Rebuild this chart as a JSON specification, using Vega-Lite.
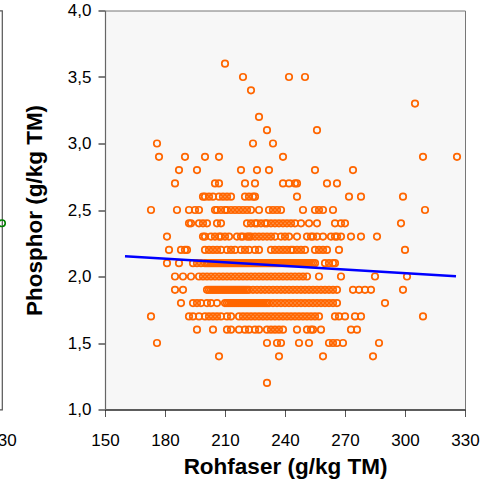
{
"$schema": "https://vega.github.io/schema/vega-lite/v6.json",
"padding": {"left": -99, "top": 0.5, "right": 0, "bottom": 0},
"background": "white",
"spacing": 5,
"config": {"font": "Liberation Sans"},
"datasets": {
"links": [{"Wert": 330, "Phosphor": 2.4}],
"linie": [{"Rohfaser": 160, "Phosphor": 2.153}, {"Rohfaser": 325.5, "Phosphor": 2.002}],
"punkte": [
{"Rohfaser":210,"Phosphor":3.6},
{"Rohfaser":219,"Phosphor":3.5},{"Rohfaser":242,"Phosphor":3.5},{"Rohfaser":250,"Phosphor":3.5},
{"Rohfaser":223,"Phosphor":3.4},
{"Rohfaser":305,"Phosphor":3.3},
{"Rohfaser":227,"Phosphor":3.2},
{"Rohfaser":231,"Phosphor":3.1},{"Rohfaser":256,"Phosphor":3.1},
{"Rohfaser":176,"Phosphor":3.0},{"Rohfaser":224,"Phosphor":3.0},{"Rohfaser":234,"Phosphor":3.0},
{"Rohfaser":177,"Phosphor":2.9},{"Rohfaser":190,"Phosphor":2.9},{"Rohfaser":200,"Phosphor":2.9},{"Rohfaser":207,"Phosphor":2.9},{"Rohfaser":239,"Phosphor":2.9},{"Rohfaser":309,"Phosphor":2.9},{"Rohfaser":326,"Phosphor":2.9},
{"Rohfaser":187,"Phosphor":2.8},{"Rohfaser":196,"Phosphor":2.8},{"Rohfaser":218,"Phosphor":2.8},{"Rohfaser":226,"Phosphor":2.8},{"Rohfaser":232,"Phosphor":2.8},{"Rohfaser":255,"Phosphor":2.8},{"Rohfaser":274,"Phosphor":2.8},
{"Rohfaser":185,"Phosphor":2.7},{"Rohfaser":205,"Phosphor":2.7},{"Rohfaser":207,"Phosphor":2.7},{"Rohfaser":220,"Phosphor":2.7},{"Rohfaser":225,"Phosphor":2.7},{"Rohfaser":239,"Phosphor":2.7},{"Rohfaser":242,"Phosphor":2.7},{"Rohfaser":245,"Phosphor":2.7},{"Rohfaser":246,"Phosphor":2.7},{"Rohfaser":261,"Phosphor":2.7},{"Rohfaser":266,"Phosphor":2.7},
{"Rohfaser":199,"Phosphor":2.6},{"Rohfaser":200,"Phosphor":2.6},{"Rohfaser":202,"Phosphor":2.6},{"Rohfaser":204,"Phosphor":2.6},{"Rohfaser":207,"Phosphor":2.6},{"Rohfaser":209,"Phosphor":2.6},{"Rohfaser":211,"Phosphor":2.6},{"Rohfaser":213,"Phosphor":2.6},{"Rohfaser":220,"Phosphor":2.6},{"Rohfaser":222,"Phosphor":2.6},{"Rohfaser":224,"Phosphor":2.6},{"Rohfaser":225,"Phosphor":2.6},{"Rohfaser":246,"Phosphor":2.6},{"Rohfaser":272,"Phosphor":2.6},{"Rohfaser":278,"Phosphor":2.6},{"Rohfaser":299,"Phosphor":2.6},
{"Rohfaser":173,"Phosphor":2.5},{"Rohfaser":186,"Phosphor":2.5},{"Rohfaser":192,"Phosphor":2.5},{"Rohfaser":195,"Phosphor":2.5},{"Rohfaser":197,"Phosphor":2.5},{"Rohfaser":205,"Phosphor":2.5},{"Rohfaser":206,"Phosphor":2.5},{"Rohfaser":208,"Phosphor":2.5},{"Rohfaser":210,"Phosphor":2.5},{"Rohfaser":211,"Phosphor":2.5},{"Rohfaser":213,"Phosphor":2.5},{"Rohfaser":215,"Phosphor":2.5},{"Rohfaser":217,"Phosphor":2.5},{"Rohfaser":219,"Phosphor":2.5},{"Rohfaser":221,"Phosphor":2.5},{"Rohfaser":223,"Phosphor":2.5},{"Rohfaser":227,"Phosphor":2.5},{"Rohfaser":232,"Phosphor":2.5},{"Rohfaser":234,"Phosphor":2.5},{"Rohfaser":236,"Phosphor":2.5},{"Rohfaser":238,"Phosphor":2.5},{"Rohfaser":249,"Phosphor":2.5},{"Rohfaser":255,"Phosphor":2.5},{"Rohfaser":257,"Phosphor":2.5},{"Rohfaser":259,"Phosphor":2.5},{"Rohfaser":264,"Phosphor":2.5},{"Rohfaser":310,"Phosphor":2.5},
{"Rohfaser":192,"Phosphor":2.4},{"Rohfaser":193,"Phosphor":2.4},{"Rohfaser":197,"Phosphor":2.4},{"Rohfaser":199,"Phosphor":2.4},{"Rohfaser":201,"Phosphor":2.4},{"Rohfaser":206,"Phosphor":2.4},{"Rohfaser":208,"Phosphor":2.4},{"Rohfaser":221,"Phosphor":2.4},{"Rohfaser":223,"Phosphor":2.4},{"Rohfaser":225,"Phosphor":2.4},{"Rohfaser":226,"Phosphor":2.4},{"Rohfaser":228,"Phosphor":2.4},{"Rohfaser":230,"Phosphor":2.4},{"Rohfaser":231,"Phosphor":2.4},{"Rohfaser":233,"Phosphor":2.4},{"Rohfaser":235,"Phosphor":2.4},{"Rohfaser":237,"Phosphor":2.4},{"Rohfaser":239,"Phosphor":2.4},{"Rohfaser":241,"Phosphor":2.4},{"Rohfaser":243,"Phosphor":2.4},{"Rohfaser":245,"Phosphor":2.4},{"Rohfaser":248,"Phosphor":2.4},{"Rohfaser":252,"Phosphor":2.4},{"Rohfaser":256,"Phosphor":2.4},{"Rohfaser":265,"Phosphor":2.4},{"Rohfaser":268,"Phosphor":2.4},{"Rohfaser":270,"Phosphor":2.4},{"Rohfaser":298,"Phosphor":2.4},
{"Rohfaser":181,"Phosphor":2.3},{"Rohfaser":199,"Phosphor":2.3},{"Rohfaser":200,"Phosphor":2.3},{"Rohfaser":203,"Phosphor":2.3},{"Rohfaser":205,"Phosphor":2.3},{"Rohfaser":207,"Phosphor":2.3},{"Rohfaser":208,"Phosphor":2.3},{"Rohfaser":210,"Phosphor":2.3},{"Rohfaser":212,"Phosphor":2.3},{"Rohfaser":216,"Phosphor":2.3},{"Rohfaser":218,"Phosphor":2.3},{"Rohfaser":219,"Phosphor":2.3},{"Rohfaser":221,"Phosphor":2.3},{"Rohfaser":222,"Phosphor":2.3},{"Rohfaser":223,"Phosphor":2.3},{"Rohfaser":225,"Phosphor":2.3},{"Rohfaser":227,"Phosphor":2.3},{"Rohfaser":229,"Phosphor":2.3},{"Rohfaser":231,"Phosphor":2.3},{"Rohfaser":233,"Phosphor":2.3},{"Rohfaser":235,"Phosphor":2.3},{"Rohfaser":238,"Phosphor":2.3},{"Rohfaser":240,"Phosphor":2.3},{"Rohfaser":242,"Phosphor":2.3},{"Rohfaser":246,"Phosphor":2.3},{"Rohfaser":251,"Phosphor":2.3},{"Rohfaser":253,"Phosphor":2.3},{"Rohfaser":254,"Phosphor":2.3},{"Rohfaser":256,"Phosphor":2.3},{"Rohfaser":259,"Phosphor":2.3},{"Rohfaser":263,"Phosphor":2.3},{"Rohfaser":265,"Phosphor":2.3},{"Rohfaser":266,"Phosphor":2.3},{"Rohfaser":268,"Phosphor":2.3},{"Rohfaser":273,"Phosphor":2.3},{"Rohfaser":278,"Phosphor":2.3},{"Rohfaser":286,"Phosphor":2.3},
{"Rohfaser":182,"Phosphor":2.2},{"Rohfaser":188,"Phosphor":2.2},{"Rohfaser":190,"Phosphor":2.2},{"Rohfaser":191,"Phosphor":2.2},{"Rohfaser":200,"Phosphor":2.2},{"Rohfaser":202,"Phosphor":2.2},{"Rohfaser":204,"Phosphor":2.2},{"Rohfaser":206,"Phosphor":2.2},{"Rohfaser":208,"Phosphor":2.2},{"Rohfaser":211,"Phosphor":2.2},{"Rohfaser":213,"Phosphor":2.2},{"Rohfaser":215,"Phosphor":2.2},{"Rohfaser":218,"Phosphor":2.2},{"Rohfaser":220,"Phosphor":2.2},{"Rohfaser":222,"Phosphor":2.2},{"Rohfaser":225,"Phosphor":2.2},{"Rohfaser":227,"Phosphor":2.2},{"Rohfaser":233,"Phosphor":2.2},{"Rohfaser":235,"Phosphor":2.2},{"Rohfaser":237,"Phosphor":2.2},{"Rohfaser":239,"Phosphor":2.2},{"Rohfaser":241,"Phosphor":2.2},{"Rohfaser":243,"Phosphor":2.2},{"Rohfaser":244,"Phosphor":2.2},{"Rohfaser":246,"Phosphor":2.2},{"Rohfaser":248,"Phosphor":2.2},{"Rohfaser":250,"Phosphor":2.2},{"Rohfaser":255,"Phosphor":2.2},{"Rohfaser":257,"Phosphor":2.2},{"Rohfaser":259,"Phosphor":2.2},{"Rohfaser":261,"Phosphor":2.2},{"Rohfaser":267,"Phosphor":2.2},{"Rohfaser":300,"Phosphor":2.2},
{"Rohfaser":181,"Phosphor":2.1},{"Rohfaser":187,"Phosphor":2.1},{"Rohfaser":194,"Phosphor":2.1},{"Rohfaser":196,"Phosphor":2.1},{"Rohfaser":198,"Phosphor":2.1},{"Rohfaser":200,"Phosphor":2.1},{"Rohfaser":201,"Phosphor":2.1},{"Rohfaser":202,"Phosphor":2.1},{"Rohfaser":203,"Phosphor":2.1},{"Rohfaser":204,"Phosphor":2.1},{"Rohfaser":205,"Phosphor":2.1},{"Rohfaser":206,"Phosphor":2.1},{"Rohfaser":207,"Phosphor":2.1},{"Rohfaser":208,"Phosphor":2.1},{"Rohfaser":209,"Phosphor":2.1},{"Rohfaser":210,"Phosphor":2.1},{"Rohfaser":211,"Phosphor":2.1},{"Rohfaser":212,"Phosphor":2.1},{"Rohfaser":213,"Phosphor":2.1},{"Rohfaser":214,"Phosphor":2.1},{"Rohfaser":215,"Phosphor":2.1},{"Rohfaser":216,"Phosphor":2.1},{"Rohfaser":217,"Phosphor":2.1},{"Rohfaser":218,"Phosphor":2.1},{"Rohfaser":219,"Phosphor":2.1},{"Rohfaser":220,"Phosphor":2.1},{"Rohfaser":221,"Phosphor":2.1},{"Rohfaser":222,"Phosphor":2.1},{"Rohfaser":223,"Phosphor":2.1},{"Rohfaser":224,"Phosphor":2.1},{"Rohfaser":225,"Phosphor":2.1},{"Rohfaser":226,"Phosphor":2.1},{"Rohfaser":227,"Phosphor":2.1},{"Rohfaser":228,"Phosphor":2.1},{"Rohfaser":229,"Phosphor":2.1},{"Rohfaser":230,"Phosphor":2.1},{"Rohfaser":231,"Phosphor":2.1},{"Rohfaser":232,"Phosphor":2.1},{"Rohfaser":233,"Phosphor":2.1},{"Rohfaser":234,"Phosphor":2.1},{"Rohfaser":235,"Phosphor":2.1},{"Rohfaser":236,"Phosphor":2.1},{"Rohfaser":237,"Phosphor":2.1},{"Rohfaser":238,"Phosphor":2.1},{"Rohfaser":239,"Phosphor":2.1},{"Rohfaser":240,"Phosphor":2.1},{"Rohfaser":241,"Phosphor":2.1},{"Rohfaser":242,"Phosphor":2.1},{"Rohfaser":243,"Phosphor":2.1},{"Rohfaser":244,"Phosphor":2.1},{"Rohfaser":245,"Phosphor":2.1},{"Rohfaser":246,"Phosphor":2.1},{"Rohfaser":247,"Phosphor":2.1},{"Rohfaser":248,"Phosphor":2.1},{"Rohfaser":249,"Phosphor":2.1},{"Rohfaser":250,"Phosphor":2.1},{"Rohfaser":251,"Phosphor":2.1},{"Rohfaser":252,"Phosphor":2.1},{"Rohfaser":253,"Phosphor":2.1},{"Rohfaser":254,"Phosphor":2.1},{"Rohfaser":255,"Phosphor":2.1},{"Rohfaser":260,"Phosphor":2.1},{"Rohfaser":262,"Phosphor":2.1},{"Rohfaser":264,"Phosphor":2.1},{"Rohfaser":265,"Phosphor":2.1},
{"Rohfaser":185,"Phosphor":2.0},{"Rohfaser":189,"Phosphor":2.0},{"Rohfaser":193,"Phosphor":2.0},{"Rohfaser":197,"Phosphor":2.0},{"Rohfaser":199,"Phosphor":2.0},{"Rohfaser":201,"Phosphor":2.0},{"Rohfaser":203,"Phosphor":2.0},{"Rohfaser":205,"Phosphor":2.0},{"Rohfaser":207,"Phosphor":2.0},{"Rohfaser":209,"Phosphor":2.0},{"Rohfaser":211,"Phosphor":2.0},{"Rohfaser":213,"Phosphor":2.0},{"Rohfaser":215,"Phosphor":2.0},{"Rohfaser":217,"Phosphor":2.0},{"Rohfaser":219,"Phosphor":2.0},{"Rohfaser":221,"Phosphor":2.0},{"Rohfaser":223,"Phosphor":2.0},{"Rohfaser":225,"Phosphor":2.0},{"Rohfaser":227,"Phosphor":2.0},{"Rohfaser":229,"Phosphor":2.0},{"Rohfaser":231,"Phosphor":2.0},{"Rohfaser":233,"Phosphor":2.0},{"Rohfaser":235,"Phosphor":2.0},{"Rohfaser":237,"Phosphor":2.0},{"Rohfaser":239,"Phosphor":2.0},{"Rohfaser":241,"Phosphor":2.0},{"Rohfaser":243,"Phosphor":2.0},{"Rohfaser":245,"Phosphor":2.0},{"Rohfaser":247,"Phosphor":2.0},{"Rohfaser":249,"Phosphor":2.0},{"Rohfaser":251,"Phosphor":2.0},{"Rohfaser":257,"Phosphor":2.0},{"Rohfaser":268,"Phosphor":2.0},{"Rohfaser":285,"Phosphor":2.0},{"Rohfaser":301,"Phosphor":2.0},
{"Rohfaser":185,"Phosphor":1.9},{"Rohfaser":189,"Phosphor":1.9},{"Rohfaser":201,"Phosphor":1.9},{"Rohfaser":202,"Phosphor":1.9},{"Rohfaser":203,"Phosphor":1.9},{"Rohfaser":204,"Phosphor":1.9},{"Rohfaser":205,"Phosphor":1.9},{"Rohfaser":206,"Phosphor":1.9},{"Rohfaser":207,"Phosphor":1.9},{"Rohfaser":208,"Phosphor":1.9},{"Rohfaser":209,"Phosphor":1.9},{"Rohfaser":210,"Phosphor":1.9},{"Rohfaser":211,"Phosphor":1.9},{"Rohfaser":212,"Phosphor":1.9},{"Rohfaser":213,"Phosphor":1.9},{"Rohfaser":214,"Phosphor":1.9},{"Rohfaser":215,"Phosphor":1.9},{"Rohfaser":216,"Phosphor":1.9},{"Rohfaser":217,"Phosphor":1.9},{"Rohfaser":218,"Phosphor":1.9},{"Rohfaser":219,"Phosphor":1.9},{"Rohfaser":220,"Phosphor":1.9},{"Rohfaser":221,"Phosphor":1.9},{"Rohfaser":222,"Phosphor":1.9},{"Rohfaser":224,"Phosphor":1.9},{"Rohfaser":226,"Phosphor":1.9},{"Rohfaser":228,"Phosphor":1.9},{"Rohfaser":230,"Phosphor":1.9},{"Rohfaser":232,"Phosphor":1.9},{"Rohfaser":234,"Phosphor":1.9},{"Rohfaser":236,"Phosphor":1.9},{"Rohfaser":238,"Phosphor":1.9},{"Rohfaser":240,"Phosphor":1.9},{"Rohfaser":242,"Phosphor":1.9},{"Rohfaser":244,"Phosphor":1.9},{"Rohfaser":246,"Phosphor":1.9},{"Rohfaser":248,"Phosphor":1.9},{"Rohfaser":250,"Phosphor":1.9},{"Rohfaser":252,"Phosphor":1.9},{"Rohfaser":254,"Phosphor":1.9},{"Rohfaser":256,"Phosphor":1.9},{"Rohfaser":258,"Phosphor":1.9},{"Rohfaser":260,"Phosphor":1.9},{"Rohfaser":262,"Phosphor":1.9},{"Rohfaser":264,"Phosphor":1.9},{"Rohfaser":266,"Phosphor":1.9},{"Rohfaser":274,"Phosphor":1.9},{"Rohfaser":277,"Phosphor":1.9},{"Rohfaser":280,"Phosphor":1.9},{"Rohfaser":283,"Phosphor":1.9},{"Rohfaser":299,"Phosphor":1.9},
{"Rohfaser":188,"Phosphor":1.8},{"Rohfaser":194,"Phosphor":1.8},{"Rohfaser":196,"Phosphor":1.8},{"Rohfaser":198,"Phosphor":1.8},{"Rohfaser":201,"Phosphor":1.8},{"Rohfaser":203,"Phosphor":1.8},{"Rohfaser":206,"Phosphor":1.8},{"Rohfaser":210,"Phosphor":1.8},{"Rohfaser":211,"Phosphor":1.8},{"Rohfaser":212,"Phosphor":1.8},{"Rohfaser":213,"Phosphor":1.8},{"Rohfaser":214,"Phosphor":1.8},{"Rohfaser":215,"Phosphor":1.8},{"Rohfaser":216,"Phosphor":1.8},{"Rohfaser":217,"Phosphor":1.8},{"Rohfaser":218,"Phosphor":1.8},{"Rohfaser":219,"Phosphor":1.8},{"Rohfaser":220,"Phosphor":1.8},{"Rohfaser":221,"Phosphor":1.8},{"Rohfaser":222,"Phosphor":1.8},{"Rohfaser":223,"Phosphor":1.8},{"Rohfaser":224,"Phosphor":1.8},{"Rohfaser":225,"Phosphor":1.8},{"Rohfaser":226,"Phosphor":1.8},{"Rohfaser":227,"Phosphor":1.8},{"Rohfaser":228,"Phosphor":1.8},{"Rohfaser":229,"Phosphor":1.8},{"Rohfaser":230,"Phosphor":1.8},{"Rohfaser":231,"Phosphor":1.8},{"Rohfaser":232,"Phosphor":1.8},{"Rohfaser":234,"Phosphor":1.8},{"Rohfaser":236,"Phosphor":1.8},{"Rohfaser":238,"Phosphor":1.8},{"Rohfaser":240,"Phosphor":1.8},{"Rohfaser":242,"Phosphor":1.8},{"Rohfaser":244,"Phosphor":1.8},{"Rohfaser":246,"Phosphor":1.8},{"Rohfaser":248,"Phosphor":1.8},{"Rohfaser":250,"Phosphor":1.8},{"Rohfaser":252,"Phosphor":1.8},{"Rohfaser":254,"Phosphor":1.8},{"Rohfaser":256,"Phosphor":1.8},{"Rohfaser":258,"Phosphor":1.8},{"Rohfaser":260,"Phosphor":1.8},{"Rohfaser":262,"Phosphor":1.8},{"Rohfaser":264,"Phosphor":1.8},{"Rohfaser":266,"Phosphor":1.8},{"Rohfaser":290,"Phosphor":1.8},
{"Rohfaser":173,"Phosphor":1.7},{"Rohfaser":192,"Phosphor":1.7},{"Rohfaser":194,"Phosphor":1.7},{"Rohfaser":197,"Phosphor":1.7},{"Rohfaser":200,"Phosphor":1.7},{"Rohfaser":202,"Phosphor":1.7},{"Rohfaser":204,"Phosphor":1.7},{"Rohfaser":206,"Phosphor":1.7},{"Rohfaser":208,"Phosphor":1.7},{"Rohfaser":211,"Phosphor":1.7},{"Rohfaser":213,"Phosphor":1.7},{"Rohfaser":217,"Phosphor":1.7},{"Rohfaser":219,"Phosphor":1.7},{"Rohfaser":221,"Phosphor":1.7},{"Rohfaser":223,"Phosphor":1.7},{"Rohfaser":225,"Phosphor":1.7},{"Rohfaser":227,"Phosphor":1.7},{"Rohfaser":229,"Phosphor":1.7},{"Rohfaser":231,"Phosphor":1.7},{"Rohfaser":233,"Phosphor":1.7},{"Rohfaser":235,"Phosphor":1.7},{"Rohfaser":237,"Phosphor":1.7},{"Rohfaser":239,"Phosphor":1.7},{"Rohfaser":241,"Phosphor":1.7},{"Rohfaser":243,"Phosphor":1.7},{"Rohfaser":245,"Phosphor":1.7},{"Rohfaser":247,"Phosphor":1.7},{"Rohfaser":249,"Phosphor":1.7},{"Rohfaser":251,"Phosphor":1.7},{"Rohfaser":253,"Phosphor":1.7},{"Rohfaser":255,"Phosphor":1.7},{"Rohfaser":257,"Phosphor":1.7},{"Rohfaser":265,"Phosphor":1.7},{"Rohfaser":267,"Phosphor":1.7},{"Rohfaser":270,"Phosphor":1.7},{"Rohfaser":275,"Phosphor":1.7},{"Rohfaser":278,"Phosphor":1.7},{"Rohfaser":309,"Phosphor":1.7},
{"Rohfaser":196,"Phosphor":1.6},{"Rohfaser":204,"Phosphor":1.6},{"Rohfaser":211,"Phosphor":1.6},{"Rohfaser":213,"Phosphor":1.6},{"Rohfaser":217,"Phosphor":1.6},{"Rohfaser":220,"Phosphor":1.6},{"Rohfaser":222,"Phosphor":1.6},{"Rohfaser":225,"Phosphor":1.6},{"Rohfaser":227,"Phosphor":1.6},{"Rohfaser":231,"Phosphor":1.6},{"Rohfaser":233,"Phosphor":1.6},{"Rohfaser":235,"Phosphor":1.6},{"Rohfaser":237,"Phosphor":1.6},{"Rohfaser":239,"Phosphor":1.6},{"Rohfaser":246,"Phosphor":1.6},{"Rohfaser":251,"Phosphor":1.6},{"Rohfaser":253,"Phosphor":1.6},{"Rohfaser":254,"Phosphor":1.6},{"Rohfaser":258,"Phosphor":1.6},{"Rohfaser":273,"Phosphor":1.6},{"Rohfaser":276,"Phosphor":1.6},
{"Rohfaser":176,"Phosphor":1.5},{"Rohfaser":231,"Phosphor":1.5},{"Rohfaser":236,"Phosphor":1.5},{"Rohfaser":238,"Phosphor":1.5},{"Rohfaser":247,"Phosphor":1.5},{"Rohfaser":252,"Phosphor":1.5},{"Rohfaser":262,"Phosphor":1.5},{"Rohfaser":264,"Phosphor":1.5},{"Rohfaser":266,"Phosphor":1.5},{"Rohfaser":269,"Phosphor":1.5},{"Rohfaser":287,"Phosphor":1.5},
{"Rohfaser":207,"Phosphor":1.4},{"Rohfaser":237,"Phosphor":1.4},{"Rohfaser":259,"Phosphor":1.4},{"Rohfaser":284,"Phosphor":1.4},
{"Rohfaser":231,"Phosphor":1.2}
]},
"hconcat": [
{"data": {"name": "links"},
 "width": 100, "height": 399,
 "view": {"fill": "white", "stroke": "#555555", "strokeWidth": 1.2},
 "mark": {"type": "point", "shape": "circle", "filled": false, "color": "#008000", "strokeWidth": 1.6, "size": 42, "opacity": 1, "clip": false},
 "encoding": {
  "x": {"field": "Wert", "type": "quantitative", "title": null,
        "scale": {"domain": [150, 330], "nice": false, "zero": false},
        "axis": {"values": [330], "grid": false, "domain": false, "ticks": false, "labelFlush": false,
                 "labelFontSize": 17, "labelColor": "#000000", "labelPadding": 23}},
  "y": {"field": "Phosphor", "type": "quantitative",
        "scale": {"domain": [1, 4], "nice": false, "zero": false}, "axis": null}
 }},
{"width": 360, "height": 399,
 "view": {"fill": "#f7f7f7", "stroke": "#777777", "strokeWidth": 1},
 "layer": [
 {"data": {"name": "punkte"},
  "mark": {"type": "point", "shape": "circle", "filled": false, "color": "#ff6600", "strokeWidth": 1.7, "size": 42, "opacity": 1},
  "encoding": {
   "x": {"field": "Rohfaser", "type": "quantitative",
         "scale": {"domain": [150, 330], "nice": false, "zero": false},
         "axis": {"values": [150, 180, 210, 240, 270, 300, 330], "grid": false, "labelFlush": false, "labelOverlap": false,
                  "tickSize": 7, "tickColor": "#555555", "domainColor": "#000000", "domainWidth": 1.2,
                  "labelFontSize": 17, "labelColor": "#000000", "labelPadding": 16,
                  "title": "Rohfaser (g/kg TM)", "titleFontSize": 22.5, "titleFontWeight": "bold", "titleColor": "#000000", "titlePadding": 7}},
   "y": {"field": "Phosphor", "type": "quantitative",
         "scale": {"domain": [1, 4], "nice": false, "zero": false},
         "axis": {"values": [1, 1.5, 2, 2.5, 3, 3.5, 4], "grid": false, "labelFlush": false, "labelOverlap": false,
                  "labelExpr": "replace(format(datum.value, '.1f'), '.', ',')",
                  "tickSize": 7, "tickColor": "#000000", "domainColor": "#666666", "domainWidth": 1.2,
                  "labelFontSize": 17, "labelColor": "#000000", "labelPadding": 7,
                  "title": "Phosphor (g/kg TM)", "titleFontSize": 22.5, "titleFontWeight": "bold", "titleColor": "#000000", "titlePadding": 21}}
  }},
 {"data": {"name": "linie"},
  "mark": {"type": "line", "color": "#0000ff", "strokeWidth": 2.5},
  "encoding": {"x": {"field": "Rohfaser", "type": "quantitative"}, "y": {"field": "Phosphor", "type": "quantitative"}}}
 ]}
]
}
